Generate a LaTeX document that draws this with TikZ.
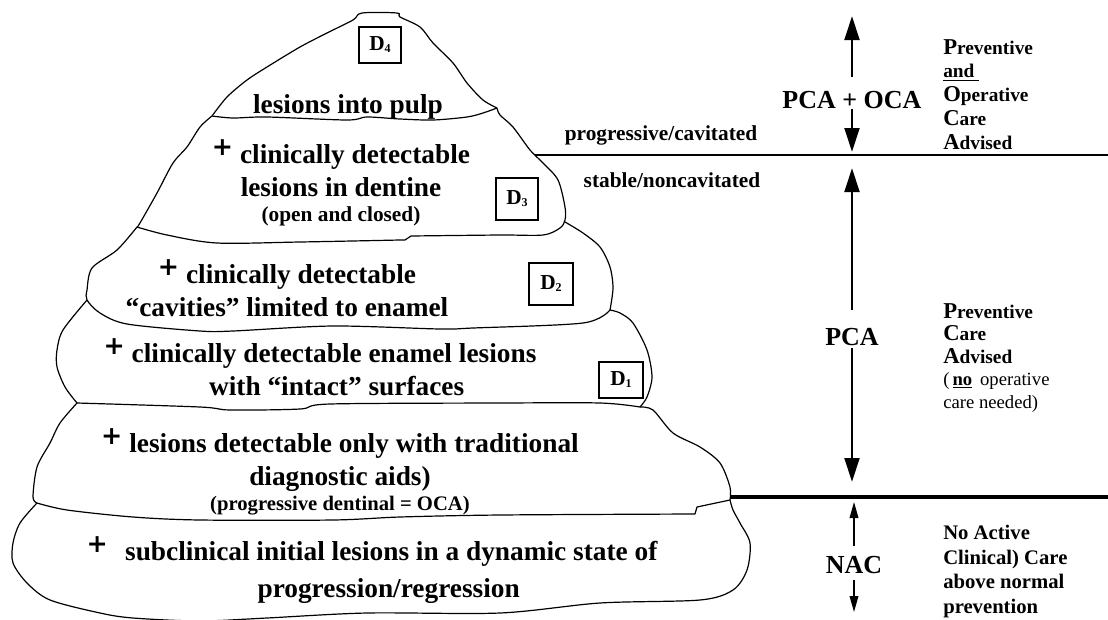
\documentclass[tikz,border=0pt]{standalone}
\usepackage{fontspec}
\setmainfont{Liberation Serif}
\newfontfamily\plusfont{DejaVu Sans}
\usetikzlibrary{arrows.meta}

\newcommand{\raisedplus}{\raisebox{.3em}{\plusfont\bfseries\fontsize{19}{19}\selectfont +}}
\newcommand{\capinitial}[1]{{\fontsize{17}{18}\selectfont #1}}
\newcommand{\dlevel}[1]{D\raisebox{-1.5pt}{\fontsize{9}{9}\selectfont #1}}

\begin{document}
\begin{tikzpicture}[
    x=0.75pt, y=-0.75pt,
    outline/.style={line width=0.9pt, line join=round},
    lesion/.style={align=center, anchor=base, inner sep=0pt, font=\fontsize{20.5}{24.5}\selectfont\bfseries},
    dbox/.style={draw, line width=1.8pt, minimum width=31.5pt, minimum height=27pt, inner sep=0pt, font=\fontsize{16}{18}\selectfont\bfseries},
    state/.style={anchor=base, inner sep=0pt, font=\fontsize{16}{19}\selectfont\bfseries},
    zone/.style={anchor=base, inner sep=0pt, font=\fontsize{19.5}{22}\selectfont\bfseries},
    advice/.style={align=left, anchor=base west, inner sep=0pt, font=\fontsize{14.5}{17.8}\selectfont\bfseries},
    bigarrow/.style={-{Triangle[length=18pt, width=11pt]}, line width=2.2pt},
    thinarrow/.style={-{Triangle[length=12pt, width=6.5pt]}, line width=1.1pt}
  ]
  \useasboundingbox (0,0) rectangle (1108,619);

  % layer outlines, top to bottom
  \draw[outline] plot[smooth, tension=.5] coordinates {(212,116) (227,97) (247,80) (267,67) (300,47) (327,33) (353,20) (362,13) (397,13) (400,17) (420,27) (433,43) (453,63) (467,83) (483,100) (497,108)};
  \draw[outline] plot[smooth, tension=.5] coordinates {(212,116) (233,118) (267,117) (347,120) (367,117) (400,119) (433,120) (467,117) (483,113) (497,108)};
  \draw[outline] plot[smooth, tension=.5] coordinates {(497,108) (500,115) (513,127) (530,150) (543,163) (558,180) (565,207) (565,220) (560,228) (543,235) (500,235) (411,236)} -- (405,240) -- plot[smooth, tension=.5] coordinates {(400,240) (300,242) (217,243) (167,235) (137,227)};
  \draw[outline] plot[smooth, tension=.5] coordinates {(137,227) (140,223) (157,193) (173,163) (187,147) (200,127) (212,116)};
  \draw[outline] plot[smooth, tension=.5] coordinates {(565,222) (583,233) (600,247) (610,267) (613,288) (610,310)};
  \draw[outline] plot[smooth, tension=.5] coordinates {(137,227) (117,250) (92,268) (87,290) (87,300) (100,313) (127,324) (200,331) (233,331) (333,326) (440,329) (473,328) (583,323) (610,310)};
  \draw[outline] plot[smooth, tension=.5] coordinates {(87,300) (63,330) (57,350) (57,367) (65,387) (77,403)};
  \draw[outline] plot[smooth, tension=.5] coordinates {(77,403) (200,407) (230,410) (300,409) (330,404) (500,403) (600,403) (640,407)};
  \draw[outline] plot[smooth, tension=.5] coordinates {(610,310) (620,313) (633,323) (647,350) (652,377) (647,397) (640,407)};
  \draw[outline] plot[smooth, tension=.5] coordinates {(77,403) (60,423) (50,443) (37,467) (33,497) (37,503)};
  \draw[outline] plot[smooth, tension=.5] coordinates {(37,503) (67,510) (133,517) (200,520) (333,520) (400,517) (500,515) (695,514)} -- (697,507) -- (730,500);
  \draw[outline] plot[smooth, tension=.5] coordinates {(640,407) (653,410) (673,433) (700,447) (720,463) (730,487) (730,500)};
  \draw[outline] plot[smooth, tension=.5] coordinates {(37,503) (20,523) (13,543) (13,563) (27,583) (50,600) (100,613) (133,618) (200,621) (267,618) (367,613) (500,613) (600,603) (700,600) (733,590) (747,570) (750,543) (740,523) (733,510) (730,500)};

  % layer texts (anchored at the baseline of their last line)
  \node[lesion] (pulp) at (348,113) {lesions into pulp};
  \node[lesion] (dentine) at (341,221) {\raisedplus\ clinically detectable\\ lesions in dentine\\[-6pt] {\fontsize{16}{19}\selectfont (open and closed)}};
  \node[lesion] (cavities) at (287,316) {\raisedplus\ clinically detectable\\ ``cavities'' limited to enamel};
  \node[lesion] (enamel) at (320,395) {\raisedplus\ clinically detectable enamel lesions\\ \hspace*{25pt}with ``intact'' surfaces};
  \node[lesion] (aids) at (340,510) {\raisedplus\ lesions detectable only with traditional\\ diagnostic aids)\\[-6pt] {\fontsize{15.5}{19}\selectfont (progressive dentinal = OCA)}};
  \node[lesion] (subclinical) at (372,597) {\raisedplus\hspace{13pt}subclinical initial lesions in a dynamic state of\\[3pt] \hspace*{25pt}progression/regression};

  % diagnostic thresholds
  \node[dbox] (d4) at (380,45) {\dlevel{4}};
  \node[dbox, minimum height=31.5pt] (d3) at (517,199) {\dlevel{3}};
  \node[dbox, minimum width=33pt, minimum height=31.5pt] (d2) at (551,284) {\dlevel{2}};
  \node[dbox, minimum width=33pt] (d1) at (621,380) {\dlevel{1}};

  % care zones
  \coordinate (cavl) at (535,155);
  \coordinate (cavr) at (1108,155);
  \coordinate (nacl) at (730,497);
  \coordinate (nacr) at (1108,497);
  \draw[line width=1.5pt] (cavl) -- (cavr);
  \draw[line width=3pt] (nacl) -- (nacr);

  \node[state] (progressive) at (661,140) {progressive/cavitated};
  \node[state] (stable) at (672,187) {stable/noncavitated};

  \node[zone] (pcaoca) at (852,108) {PCA + OCA};
  \node[zone] (pca) at (852,345) {PCA};
  \node[zone] (nac) at (854,573) {NAC};
  \coordinate (occtop) at (852,16);
  \coordinate (occbot) at (852,152);
  \coordinate (pcatop) at (852,168);
  \coordinate (pcabot) at (852,482);
  \coordinate (nactop) at (854,502);
  \coordinate (nacbot) at (854,612);
  \draw[bigarrow, shorten <=10.5pt] (pcaoca) -- (occtop);
  \draw[bigarrow] (pcaoca) -- (occbot);
  \draw[bigarrow, shorten <=13pt] (pca) -- (pcatop);
  \draw[bigarrow, shorten <=2pt] (pca) -- (pcabot);
  \draw[thinarrow, shorten <=7pt] (nac) -- (nactop);
  \draw[thinarrow, shorten <=5pt] (nac) -- (nacbot);

  \node[advice] (pocadvice) at (943,149) {\capinitial{P}reventive\\ \underline{and\ }\\ \capinitial{O}perative\\ \capinitial{C}are\\ \capinitial{A}dvised};
  \node[advice, font=\fontsize{14.5}{16.8}\selectfont\bfseries] (pcadvice) at (943,408) {\capinitial{P}reventive\\ \capinitial{C}are\\ \capinitial{A}dvised\\ {\mdseries\fontsize{14}{16.8}\selectfont (\,\underline{\textbf{no}}\, operative}\\ {\mdseries\fontsize{14}{16.8}\selectfont care needed)}};
  \node[advice, font=\fontsize{15.5}{18.3}\selectfont\bfseries] (nacadvice) at (943,613) {No Active\\ Clinical) Care\\ above normal\\ prevention};
\end{tikzpicture}
\end{document}
